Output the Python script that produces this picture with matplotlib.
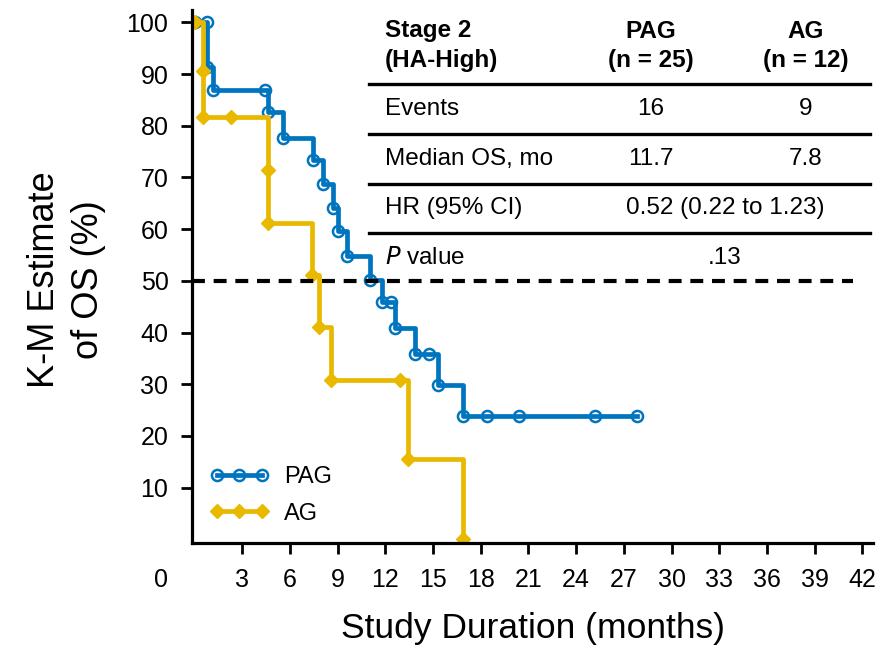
import matplotlib
matplotlib.use("Agg")
import matplotlib.pyplot as plt
from matplotlib.lines import Line2D

# K-M curves (months, % surviving)
pag_t = [0, 0.76, 0.76, 1.14, 4.43, 4.6, 5.58, 7.47, 8.09, 8.72, 9.04, 9.57, 11.03,
         11.77, 12.35, 12.6, 13.86, 14.76, 15.33, 16.9, 18.37, 20.4, 25.2, 27.84]
pag_s = [100, 100, 91.4, 86.9, 86.9, 82.7, 77.7, 73.3, 68.7, 64.0, 59.6, 54.8, 50.2,
         46.0, 46.0, 40.8, 35.8, 35.8, 29.8, 23.9, 23.9, 23.9, 23.9, 23.9]

ag_t = [0, 0.55, 0.55, 2.27, 4.64, 4.64, 7.4, 7.8, 8.6, 12.9, 13.44, 16.86]
ag_s = [100, 90.6, 81.7, 81.7, 71.4, 61.2, 51.1, 41.1, 30.8, 30.8, 15.5, 0]

xticks = [3, 6, 9, 12, 15, 18, 21, 24, 27, 30, 33, 36, 39, 42]
yticks = [10, 20, 30, 40, 50, 60, 70, 80, 90, 100]

# table in the upper right
header = [("Stage 2", "(HA-High)"), ("PAG", "(n = 25)"), ("AG", "(n = 12)")]
rows = [("Events", "16", "9"), ("Median OS, mo", "11.7", "7.8")]
hr_text = "0.52 (0.22 to 1.23)"
p_text = ".13"

blue = "#0075BF"
gold = "#E9B900"
plt.rcParams['font.family'] = ['Liberation Sans', 'DejaVu Sans']

fig = plt.figure(figsize=(8.87, 6.49), dpi=100)
ax = fig.add_axes([0.2165, 0.1629, 0.7677, 0.8217])

ax.step(pag_t, pag_s, where='post', color=blue, lw=3.4, marker='o', ms=8,
        mfc='none', mec=blue, mew=1.8, label='PAG')
ax.step(ag_t, ag_s, where='post', color=gold, lw=3.4, marker='D', ms=7,
        mfc=gold, mec=gold, label='AG')
ax.axhline(50, xmin=0, xmax=0.97, color='black', lw=3, dashes=(3.1, 2.1))

ax.set_xlim(-0.16, 42.67)
ax.set_ylim(-0.77, 102.4)
ax.set_xticks(xticks)
ax.set_yticks(yticks)
ax.tick_params(labelsize=18, length=8, width=2, pad=10, colors='black')
ax.tick_params(axis='y', pad=9)
for s in ['top', 'right']:
    ax.spines[s].set_visible(False)
for s in ['left', 'bottom']:
    ax.spines[s].set_linewidth(2.3)

ax.set_xlabel('Study Duration (months)', fontsize=25.5, labelpad=14)
ax.set_ylabel('K-M Estimate\nof OS (%)', fontsize=26, linespacing=1.3)
ax.yaxis.set_label_coords(-0.127, 0.494)
fig.text(161 / 887, 1 - 580 / 649, '0', fontsize=18, ha='center', va='center')

ax.legend(loc='lower left', bbox_to_anchor=(-0.005, -0.005), frameon=False, fontsize=17,
          numpoints=3, handlelength=2.5, handletextpad=0.65, labelspacing=0.62)


def fx(px):
    return px / 887


def fy(py):
    return 1 - py / 649


# table rules
for py in [84.3, 134.3, 183.7, 233]:
    fig.add_artist(Line2D([fx(369), fx(870)], [fy(py), fy(py)], color='black',
                          lw=2.4, transform=fig.transFigure))

fs = 17.5
col_x = [385, 651, 806]
fig.text(fx(col_x[0]), fy(31), header[0][0], fontsize=fs, weight='bold', va='center')
fig.text(fx(col_x[0]), fy(60), header[0][1], fontsize=fs, weight='bold', va='center')
for i in (1, 2):
    fig.text(fx(col_x[i]), fy(31), header[i][0], fontsize=fs, weight='bold',
             ha='center', va='center')
    fig.text(fx(col_x[i]), fy(60), header[i][1], fontsize=fs, weight='bold',
             ha='center', va='center')
for r, py in zip(rows, [109, 159]):
    fig.text(fx(col_x[0]), fy(py), r[0], fontsize=fs, va='center')
    fig.text(fx(col_x[1]), fy(py), r[1], fontsize=fs, ha='center', va='center')
    fig.text(fx(col_x[2]), fy(py), r[2], fontsize=fs, ha='center', va='center')
fig.text(fx(col_x[0]), fy(208), 'HR (95% CI)', fontsize=fs, va='center')
fig.text(fx(725), fy(208), hr_text, fontsize=fs, ha='center', va='center')
fig.text(fx(col_x[0]), fy(258), r'$\it{P}$ value', fontsize=fs, va='center')
fig.text(fx(725), fy(258), p_text, fontsize=fs, ha='center', va='center')

fig.savefig('out.png', dpi=100)
